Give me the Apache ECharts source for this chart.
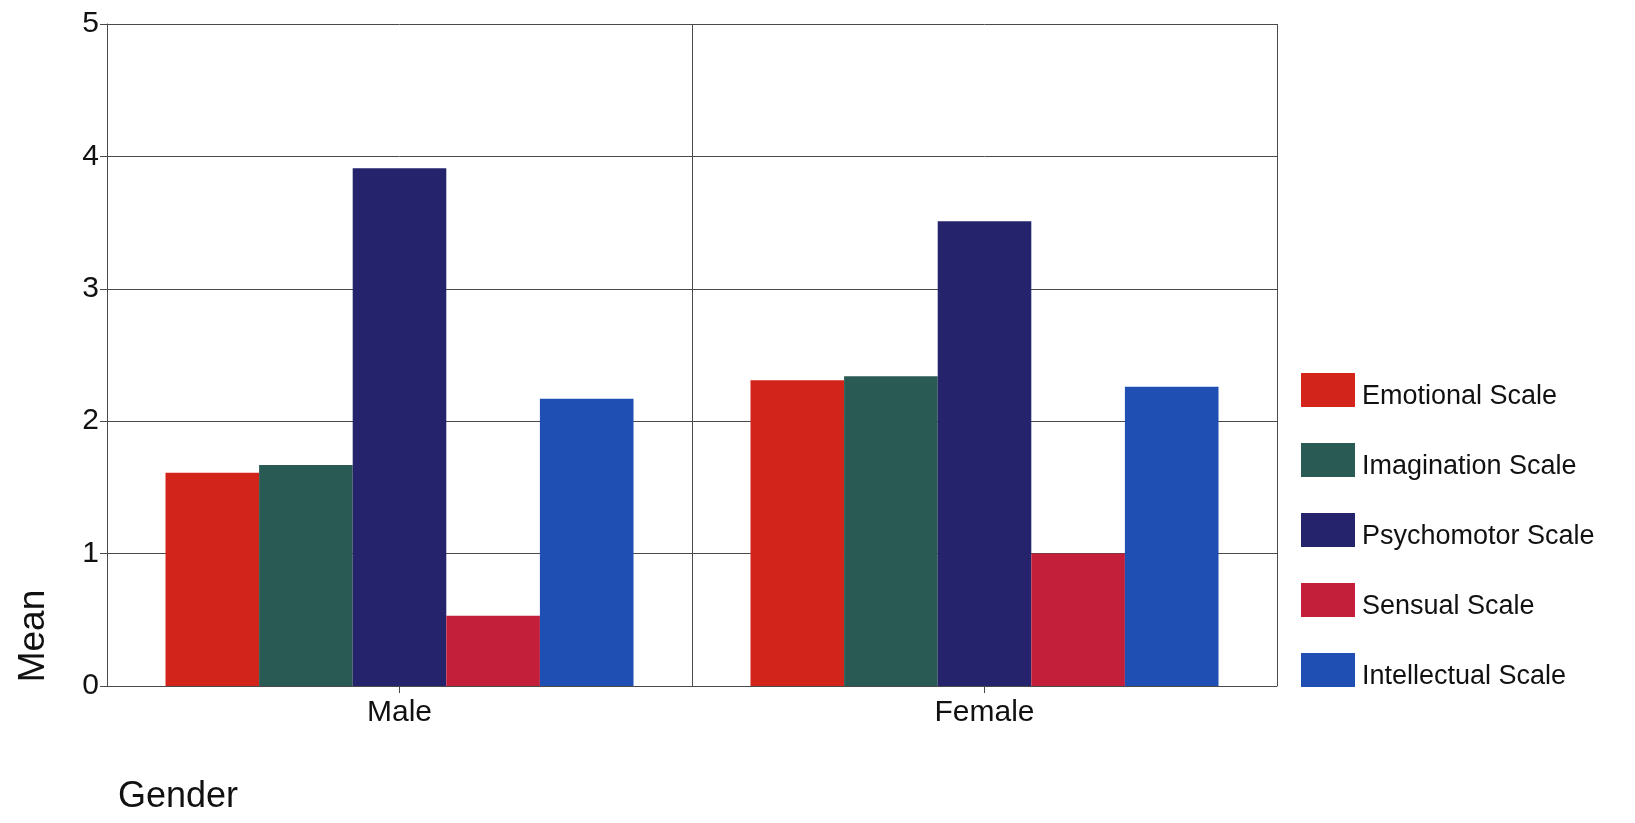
<!DOCTYPE html>
<html>
<head>
<meta charset="utf-8">
<title>Mean scale scores by gender</title>
<script src="https://cdn.jsdelivr.net/npm/echarts@6/dist/echarts.min.js"></script>
<style>
  html, body { margin: 0; padding: 0; background: #ffffff; }
  #chart { width: 1635px; height: 823px; }
</style>
</head>
<body>
<div id="chart"></div>
<script>
// Groups along the x axis
const genders = ['Male', 'Female'];

// Scale names (legend order)
const scaleNames = ['Emotional Scale', 'Imagination Scale', 'Psychomotor Scale', 'Sensual Scale', 'Intellectual Scale'];

// Mean score per scale, [Male, Female]
const emotional    = [1.61, 2.31];
const imagination  = [1.67, 2.34];
const psychomotor  = [3.91, 3.51];
const sensual      = [0.53, 1.00];
const intellectual = [2.17, 2.26];

// Y axis ticks
const yTicks = [0, 1, 2, 3, 4, 5];

const scaleValues = [emotional, imagination, psychomotor, sensual, intellectual];
const scaleColors = ['#d3241c', '#2a5a54', '#24236c', '#c31e3a', '#1f4fb2'];

const FONT = '"Liberation Sans", Arial, sans-serif';
const LINE = '#4a4a4a';

const chart = echarts.init(document.getElementById('chart'), null, { renderer: 'canvas' });

chart.setOption({
  backgroundColor: '#ffffff',
  animation: false,
  textStyle: { fontFamily: FONT, color: '#111' },
  grid: { left: 107, right: 358, top: 24, bottom: 137, containLabel: false },
  legend: {
    orient: 'vertical',
    left: 1296,
    top: 365,
    itemWidth: 54,
    itemHeight: 34,
    itemGap: 30,
    icon: 'rect',
    align: 'left',
    data: scaleNames,
    formatter: name => '{t|' + name + '}',
    textStyle: {
      fontFamily: FONT, fontSize: 27, color: '#111',
      rich: { t: { fontFamily: FONT, fontSize: 27, color: '#111', padding: [13, 0, 0, 2], lineHeight: 30 } }
    }
  },
  xAxis: {
    type: 'category',
    data: genders,
    axisLine: { show: true, lineStyle: { color: LINE, width: 1 } },
    axisTick: { show: true, alignWithLabel: true, length: 7, lineStyle: { color: LINE } },
    axisLabel: { fontFamily: FONT, fontSize: 30, color: '#111', margin: 12 },
    splitLine: { show: true, lineStyle: { color: LINE, width: 1 } }
  },
  yAxis: {
    type: 'value',
    min: yTicks[0],
    max: yTicks[yTicks.length - 1],
    interval: 1,
    axisLine: { show: true, lineStyle: { color: LINE, width: 1 } },
    axisTick: { show: true, length: 7, lineStyle: { color: LINE } },
    axisLabel: { fontFamily: FONT, fontSize: 30, color: '#111', margin: 8 },
    splitLine: { show: true, lineStyle: { color: LINE, width: 1 } }
  },
  graphic: [
    {
      type: 'text',
      x: 34,
      y: 636,
      rotation: Math.PI / 2,
      style: { text: 'Mean', font: '37px ' + FONT, fill: '#111', align: 'center', verticalAlign: 'middle' }
    },
    {
      type: 'text',
      x: 118,
      y: 797,
      style: { text: 'Gender', font: '36px ' + FONT, fill: '#111', align: 'left', verticalAlign: 'middle' }
    }
  ],
  series: scaleNames.map((name, i) => ({
    name: name,
    type: 'bar',
    data: scaleValues[i],
    barGap: '0%',
    barCategoryGap: '20%',
    itemStyle: { color: scaleColors[i] }
  }))
});
</script>
</body>
</html>
